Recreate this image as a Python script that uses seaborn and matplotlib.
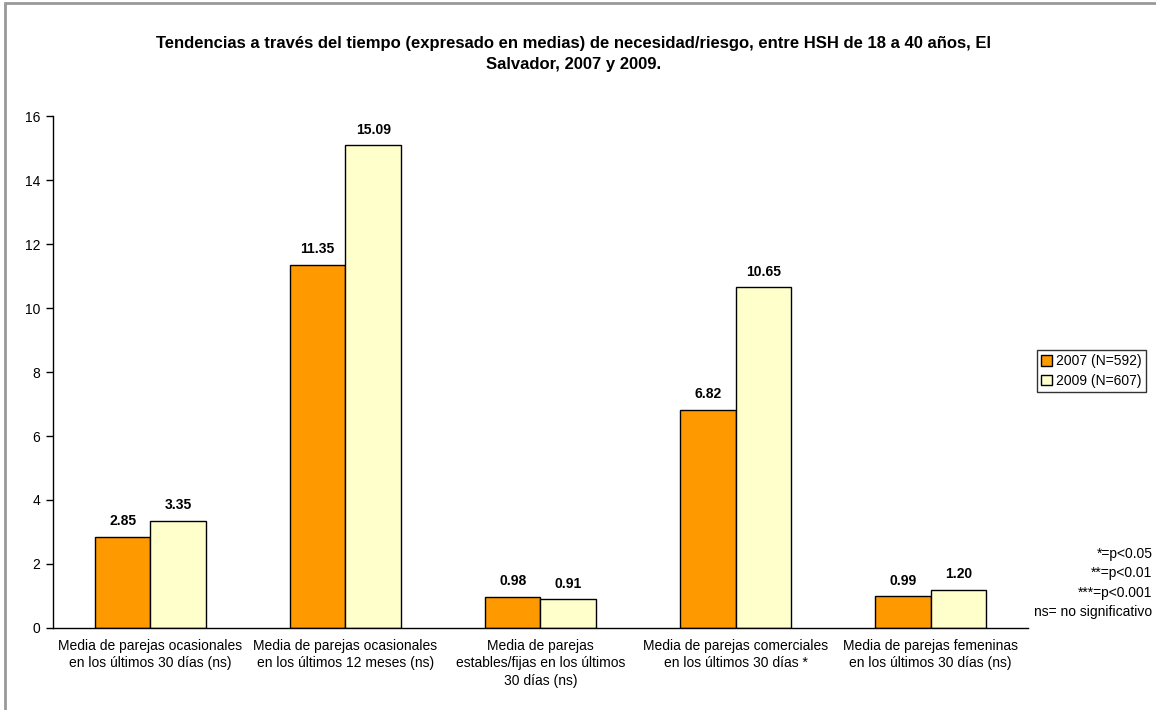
import numpy as np
import pandas as pd
import matplotlib
matplotlib.use("Agg")
import matplotlib.pyplot as plt
import seaborn as sns
from matplotlib.patches import Rectangle

# datos
categorias = [
    "Media de parejas ocasionales\nen los últimos 30 días (ns)",
    "Media de parejas ocasionales\nen los últimos 12 meses (ns)",
    "Media de parejas\nestables/fijas en los últimos\n30 días (ns)",
    "Media de parejas comerciales\nen los últimos 30 días *",
    "Media de parejas femeninas\nen los últimos 30 días (ns)",
]
series = ["2007 (N=592)", "2009 (N=607)"]
valores_2007 = [2.85, 11.35, 0.98, 6.82, 0.99]
valores_2009 = [3.35, 15.09, 0.91, 10.65, 1.20]
y_ticks = [0, 2, 4, 6, 8, 10, 12, 14, 16]

df = pd.DataFrame({
    "categoria": categorias * 2,
    "serie": [series[0]] * 5 + [series[1]] * 5,
    "valor": valores_2007 + valores_2009,
})

sns.set_style("white")
plt.rcParams["font.family"] = ["Liberation Sans", "DejaVu Sans"]
plt.rcParams["text.color"] = "black"
plt.rcParams["xtick.color"] = "black"
plt.rcParams["ytick.color"] = "black"

fig = plt.figure(figsize=(11.56, 7.1), dpi=100)
ax = fig.add_axes([0.0458, 0.1155, 0.8435, 0.7211])

sns.barplot(data=df, x="categoria", y="valor", hue="serie",
            palette=["#FF9900", "#FFFFCC"], saturation=1, edgecolor="black", linewidth=1,
            width=0.57, ax=ax, legend=True)

# etiquetas de valor
for cont in ax.containers:
    ax.bar_label(cont, labels=[f"{v:.2f}" for v in cont.datavalues],
                 padding=6, fontsize=10, fontweight="bold")

ax.set_xlim(-0.5, 4.5)
ax.set_ylim(0, 16)
ax.set_yticks(y_ticks)
ax.set_yticklabels([str(t) for t in y_ticks], fontsize=10)
ax.set_xticks(range(5))
ax.set_xticklabels(categorias, fontsize=10, linespacing=1.3)
ax.set_xticks(np.arange(-0.5, 5, 1), minor=True)
ax.tick_params(axis="x", which="major", length=0, pad=8)
ax.tick_params(axis="x", which="minor", length=5, width=1, color="black", direction="out")
ax.tick_params(axis="y", length=5, width=1, color="black", direction="out", left=True, pad=4)
ax.set_xlabel("")
ax.set_ylabel("")
for s in ["top", "right"]:
    ax.spines[s].set_visible(False)
for s in ["left", "bottom"]:
    ax.spines[s].set_color("black")
    ax.spines[s].set_linewidth(1)

leg = ax.legend(loc="upper left", bbox_to_anchor=(0.897, 0.507), bbox_transform=fig.transFigure,
                fontsize=10, frameon=True, fancybox=False, handlelength=0.8, handleheight=0.8,
                handletextpad=0.3, borderpad=0.3, labelspacing=0.4, borderaxespad=0)
leg.get_frame().set_edgecolor("black")
leg.get_frame().set_linewidth(1)

fig.text(0.496, 0.924, "Tendencias a través del tiempo (expresado en medias) de necesidad/riesgo, entre HSH de 18 a 40 años, El\nSalvador, 2007 y 2009.",
         ha="center", va="center", fontsize=12, fontweight="bold", linespacing=1.5)

fig.text(0.997, 0.128, "*=p<0.05\n**=p<0.01\n***=p<0.001\nns= no significativo",
         ha="right", va="bottom", fontsize=10, linespacing=1.5)

# borde exterior
fig.patches.append(Rectangle((0.0045, -0.01), 1.1, 1.0055, transform=fig.transFigure,
                             fill=False, edgecolor="#999999", linewidth=2))

fig.savefig("out.png", dpi=100)
